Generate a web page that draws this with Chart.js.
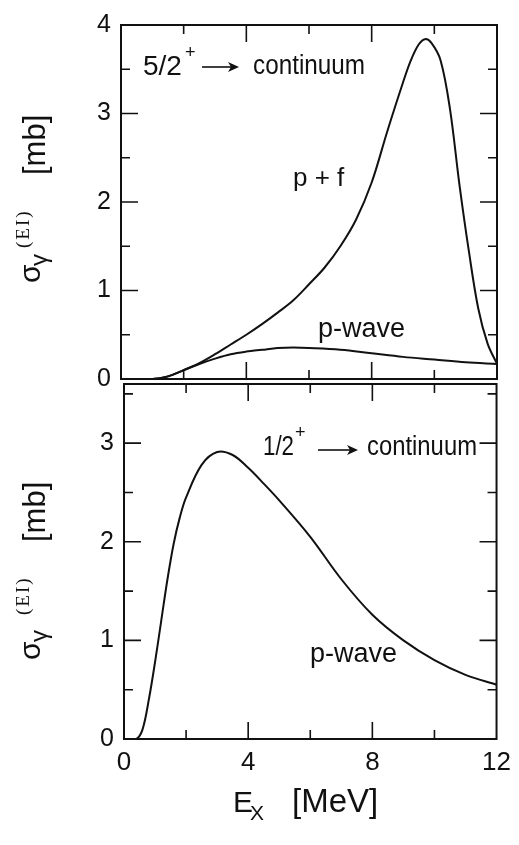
<!DOCTYPE html>
<html>
<head>
<meta charset="utf-8">
<script src="https://cdn.jsdelivr.net/npm/chart.js@4.4.1/dist/chart.umd.min.js"></script>
<style>
  html, body { margin: 0; padding: 0; background: #fff; }
  #wrap { position: relative; width: 519px; height: 845px; }
  #wrap canvas { position: absolute; left: 0; top: 0; }
</style>
</head>
<body>
<div id="wrap">
  <canvas id="topChart" width="519" height="845"></canvas>
  <canvas id="bottomChart" width="519" height="845"></canvas>
</div>
<script>
// --- data ---
// upper panel: 5/2+ -> continuum
const pfEnergy = [0, 1, 1.5, 2, 2.5, 3, 3.5, 4, 4.5, 5, 5.5, 6, 6.5, 7, 7.5, 8, 8.5, 9, 9.25, 9.5, 9.7, 9.9, 10.2, 10.5, 10.8, 11.1, 11.4, 11.7, 12];
const pfSigma  = [0, 0, 0.03, 0.1, 0.18, 0.28, 0.39, 0.5, 0.62, 0.75, 0.89, 1.07, 1.26, 1.5, 1.8, 2.22, 2.8, 3.35, 3.6, 3.78, 3.84, 3.8, 3.6, 3.05, 2.2, 1.45, 0.8, 0.4, 0.17];
const pwTopEnergy = [0, 1, 1.5, 2, 2.5, 3, 3.5, 4, 4.5, 5, 5.5, 6, 7, 8, 9, 10, 11, 12];
const pwTopSigma  = [0, 0, 0.03, 0.1, 0.17, 0.23, 0.28, 0.31, 0.33, 0.35, 0.355, 0.35, 0.33, 0.29, 0.25, 0.22, 0.19, 0.17];
// lower panel: 1/2+ -> continuum
const pwBotEnergy = [0, 0.4, 0.6, 0.8, 1.0, 1.2, 1.4, 1.6, 1.8, 2.0, 2.5, 3.0, 3.5, 4, 4.5, 5, 6, 7, 8, 9, 10, 11, 12];
const pwBotSigma  = [0, 0, 0.1, 0.4, 0.78, 1.2, 1.62, 1.98, 2.25, 2.45, 2.78, 2.91, 2.88, 2.75, 2.59, 2.42, 2.05, 1.62, 1.26, 1.0, 0.8, 0.65, 0.55];

// axis ticks
const xMarks = [2, 4, 6, 8, 10];      // major every 4
const yMarks = [0.5, 1, 1.5, 2, 2.5, 3, 3.5];

const ink = '#111';
const sans = "'Liberation Sans', Arial, Helvetica, sans-serif";
const serif = "'Liberation Serif', 'Times New Roman', serif";
Chart.defaults.font.family = sans;
Chart.defaults.color = ink;

function pts(xs, ys) {
  return xs.map((x, i) => ({ x: x, y: ys[i] }));
}

function curve(data) {
  return {
    data: data,
    borderColor: ink,
    borderWidth: 2,
    pointRadius: 0,
    fill: false,
    tension: 0.35
  };
}

function yAxis(max, width) {
  return {
    type: 'linear', min: 0, max: max,
    afterFit: s => { s.width = width; },
    afterBuildTicks: s => { s.ticks = s.ticks.filter(t => Number.isInteger(t.value)); },
    ticks: { stepSize: 1, padding: 10, font: { size: 25 }, color: ink },
    grid: { display: false, drawTicks: false },
    border: { display: false }
  };
}

function txt(ctx, s, x, y, size, family, maxWidth) {
  ctx.font = size + 'px ' + (family || sans);
  ctx.fillStyle = ink;
  ctx.textAlign = 'left';
  ctx.textBaseline = 'alphabetic';
  if (maxWidth) ctx.fillText(s, x, y, maxWidth);
  else ctx.fillText(s, x, y);
}

function arrow(ctx, x1, x2, y) {
  ctx.save();
  ctx.strokeStyle = ink;
  ctx.fillStyle = ink;
  ctx.lineWidth = 1.6;
  ctx.beginPath();
  ctx.moveTo(x1, y); ctx.lineTo(x2 - 8, y);
  ctx.stroke();
  ctx.beginPath();
  ctx.moveTo(x2, y); ctx.lineTo(x2 - 11, y - 5); ctx.lineTo(x2 - 8, y); ctx.lineTo(x2 - 11, y + 5);
  ctx.closePath();
  ctx.fill();
  ctx.restore();
}

// sigma_gamma^(EI) [mb], written bottom to top
function yTitle(ctx, u0, g, ei, mb) {
  ctx.save();
  ctx.translate(0, u0);
  ctx.rotate(-Math.PI / 2);
  txt(ctx, 'σ', 0, 40, 30);
  txt(ctx, 'γ', g, 47, 24);
  ctx.letterSpacing = '2px';
  txt(ctx, '(EI)', ei, 29, 19, serif);
  ctx.letterSpacing = '0px';
  txt(ctx, '[mb]', mb, 45, 31);
  ctx.restore();
}

// box with inward ticks on all four sides
const framePlugin = {
  id: 'frame',
  afterDatasetsDraw(chart) {
    const { ctx, chartArea: a, scales: { x, y } } = chart;
    ctx.save();
    ctx.strokeStyle = ink;
    ctx.lineWidth = 2;
    ctx.strokeRect(a.left, a.top, a.right - a.left, a.bottom - a.top);
    ctx.beginPath();
    xMarks.forEach(v => {
      const px = x.getPixelForValue(v);
      const len = v % 4 === 0 ? 17 : 9;
      ctx.moveTo(px, a.bottom); ctx.lineTo(px, a.bottom - len);
      ctx.moveTo(px, a.top); ctx.lineTo(px, a.top + len);
    });
    yMarks.forEach(v => {
      if (v >= y.max) return;
      const py = y.getPixelForValue(v);
      const len = Number.isInteger(v) ? 17 : 9;
      ctx.moveTo(a.left, py); ctx.lineTo(a.left + len, py);
      ctx.moveTo(a.right, py); ctx.lineTo(a.right - len, py);
    });
    ctx.lineWidth = 1.6;
    ctx.stroke();
    ctx.restore();
  }
};

// Upper panel
new Chart(document.getElementById('topChart'), {
  type: 'line',
  data: {
    datasets: [curve(pts(pfEnergy, pfSigma)), curve(pts(pwTopEnergy, pwTopSigma))]
  },
  options: {
    responsive: false,
    animation: false,
    layout: { padding: { top: 17, right: 22, bottom: 466, left: 0 } },
    plugins: { legend: { display: false }, tooltip: { enabled: false } },
    scales: {
      x: { type: 'linear', min: 0, max: 12, display: false },
      y: yAxis(4, 121)
    }
  },
  plugins: [framePlugin, {
    id: 'topText',
    afterDraw(chart) {
      const ctx = chart.ctx;
      txt(ctx, '5/2', 143, 75, 28, null, 40);
      txt(ctx, '+', 185, 58, 18);
      arrow(ctx, 202, 239, 67);
      txt(ctx, 'continuum', 253, 74, 27, null, 112);
      txt(ctx, 'p + f', 293, 186, 26);
      txt(ctx, 'p-wave', 318, 337, 27, null, 87);
      yTitle(ctx, 283, 17, 35, 108);
    }
  }]
});

// Lower panel
new Chart(document.getElementById('bottomChart'), {
  type: 'line',
  data: {
    datasets: [curve(pts(pwBotEnergy, pwBotSigma))]
  },
  options: {
    responsive: false,
    animation: false,
    layout: { padding: { top: 384, right: 19, bottom: 66, left: 0 } },
    plugins: { legend: { display: false }, tooltip: { enabled: false } },
    scales: {
      x: {
        type: 'linear', min: 0, max: 12,
        afterFit: s => { s.height = 40; },
        ticks: { stepSize: 4, padding: 8, font: { size: 26 }, color: ink, maxRotation: 0 },
        grid: { display: false, drawTicks: false },
        border: { display: false }
      },
      y: yAxis(3.6, 124)
    }
  },
  plugins: [framePlugin, {
    id: 'bottomText',
    afterDraw(chart) {
      const ctx = chart.ctx;
      txt(ctx, '1/2', 263, 455, 28, null, 31);
      txt(ctx, '+', 295, 438, 18);
      arrow(ctx, 318, 358, 450);
      txt(ctx, 'continuum', 367, 455, 27, null, 110);
      txt(ctx, 'p-wave', 310, 662, 27, null, 87);
      yTitle(ctx, 660, 18, 45, 118);
      // x axis title
      txt(ctx, 'E', 233, 812, 30);
      txt(ctx, 'X', 250, 820, 21);
      txt(ctx, '[MeV]', 292, 812, 33);
    }
  }]
});
</script>
</body>
</html>
